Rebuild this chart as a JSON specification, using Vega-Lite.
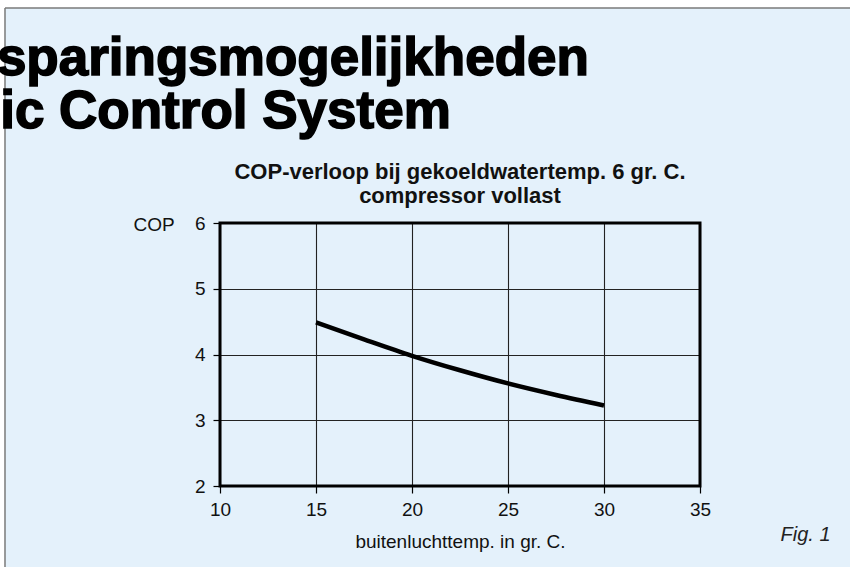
{
  "$schema": "https://vega.github.io/schema/vega-lite/v6.json",
  "autosize": {"type": "none"},
  "width": 480,
  "height": 263,
  "padding": {"left": 220, "top": 223, "right": 150, "bottom": 81},
  "background": "#e4f1fb",
  "config": {
    "view": {"stroke": null},
    "font": "Liberation Sans",
    "axis": {
      "labelFont": "Liberation Sans",
      "labelFontSize": 19,
      "labelColor": "#111111",
      "labelFlush": false,
      "labelOverlap": false,
      "titleFont": "Liberation Sans",
      "titleFontSize": 19,
      "titleFontWeight": "normal",
      "titleColor": "#111111",
      "tickColor": "#000000",
      "tickSize": 7,
      "tickWidth": 1.2,
      "domain": false,
      "gridColor": "#222222",
      "gridOpacity": 1,
      "gridWidth": 1.1
    }
  },
  "data": {
    "values": [
      {"temp": 15, "cop": 4.49},
      {"temp": 17.5, "cop": 4.23},
      {"temp": 20, "cop": 3.98},
      {"temp": 22.5, "cop": 3.76},
      {"temp": 25, "cop": 3.56},
      {"temp": 27.5, "cop": 3.385},
      {"temp": 30, "cop": 3.225}
    ]
  },
  "encoding": {
    "x": {
      "field": "temp",
      "type": "quantitative",
      "scale": {"domain": [10, 35], "nice": false, "zero": false},
      "axis": {
        "values": [10, 15, 20, 25, 30, 35],
        "title": "buitenluchttemp. in gr. C.",
        "labelPadding": 7,
        "titleY": 61,
        "titleBaseline": "alphabetic",
        "grid": true
      }
    },
    "y": {
      "field": "cop",
      "type": "quantitative",
      "scale": {"domain": [2, 6], "nice": false, "zero": false},
      "axis": {
        "values": [2, 3, 4, 5, 6],
        "title": "COP",
        "titleAngle": 0,
        "titleAlign": "left",
        "titleBaseline": "alphabetic",
        "titleX": -87,
        "titleY": 7,
        "labelPadding": 8,
        "grid": true
      }
    }
  },
  "layer": [
    {
      "transform": [{"filter": "datum.temp == 15"}],
      "mark": {"type": "rect", "fill": "#ffffff", "stroke": null},
      "encoding": {
        "x": {"datum": -2},
        "x2": {"datum": 45},
        "y": {"datum": 9.27},
        "y2": {"datum": 9.6}
      }
    },
    {
      "transform": [{"filter": "datum.temp == 15"}],
      "mark": {"type": "rect", "fill": "#ffffff", "stroke": null},
      "encoding": {
        "x": {"datum": -2},
        "x2": {"datum": -1.198},
        "y": {"datum": 9.6},
        "y2": {"datum": 0}
      }
    },
    {
      "transform": [{"filter": "datum.temp == 15"}],
      "mark": {"type": "rule", "color": "#7a7a7a", "strokeWidth": 1.5},
      "encoding": {
        "x": {"datum": -1.198},
        "x2": {"datum": 45},
        "y": {"datum": 9.27}
      }
    },
    {
      "transform": [{"filter": "datum.temp == 15"}],
      "mark": {"type": "rule", "color": "#7a7a7a", "strokeWidth": 1.5},
      "encoding": {
        "x": {"datum": -1.198},
        "y": {"datum": 9.27},
        "y2": {"datum": 0}
      }
    },
    {
      "transform": [{"filter": "datum.temp == 15"}],
      "mark": {"type": "rect", "fill": null, "stroke": "#000000", "strokeWidth": 3},
      "encoding": {
        "x": {"datum": 10},
        "x2": {"datum": 35},
        "y": {"datum": 6},
        "y2": {"datum": 2}
      }
    },
    {
      "mark": {"type": "line", "color": "#000000", "strokeWidth": 4.5, "interpolate": "monotone", "strokeCap": "butt"}
    },
    {
      "transform": [{"filter": "datum.temp == 15"}],
      "mark": {"type": "text", "text": "sparingsmogelijkheden", "font": "Liberation Sans", "fontSize": 53, "fontWeight": "bold", "align": "left", "baseline": "alphabetic", "color": "#000000", "stroke": "#000000", "strokeWidth": 1.6},
      "encoding": {"x": {"datum": -1.62}, "y": {"datum": 8.25}}
    },
    {
      "transform": [{"filter": "datum.temp == 15"}],
      "mark": {"type": "text", "text": "ic Control System", "font": "Liberation Sans", "fontSize": 53, "fontWeight": "bold", "align": "left", "baseline": "alphabetic", "color": "#000000", "stroke": "#000000", "strokeWidth": 1.6},
      "encoding": {"x": {"datum": -1.45}, "y": {"datum": 7.445}}
    },
    {
      "transform": [{"filter": "datum.temp == 15"}],
      "mark": {"type": "text", "text": "COP-verloop bij gekoeldwatertemp. 6 gr. C.", "font": "Liberation Sans", "fontSize": 22, "fontWeight": "bold", "align": "center", "baseline": "alphabetic", "color": "#111111"},
      "encoding": {"x": {"datum": 22.5}, "y": {"datum": 6.669}}
    },
    {
      "transform": [{"filter": "datum.temp == 15"}],
      "mark": {"type": "text", "text": "compressor vollast", "font": "Liberation Sans", "fontSize": 22, "fontWeight": "bold", "align": "center", "baseline": "alphabetic", "color": "#111111"},
      "encoding": {"x": {"datum": 22.5}, "y": {"datum": 6.304}}
    },
    {
      "transform": [{"filter": "datum.temp == 15"}],
      "mark": {"type": "text", "text": "Fig. 1", "font": "Liberation Sans", "fontSize": 20, "fontStyle": "italic", "fontWeight": "normal", "align": "center", "baseline": "alphabetic", "color": "#222222"},
      "encoding": {"x": {"datum": 40.5}, "y": {"datum": 1.163}}
    }
  ]
}
